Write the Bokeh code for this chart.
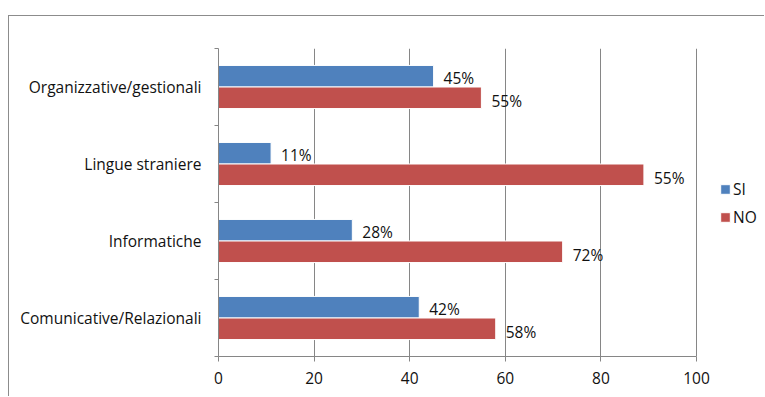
from bokeh.plotting import figure
from bokeh.models import ColumnDataSource, FixedTicker, Legend, LegendItem, Range1d
from bokeh.core.properties import value
from bokeh.embed import file_html
from bokeh.resources import INLINE

categories = ["Comunicative/Relazionali", "Informatiche", "Lingue straniere", "Organizzative/gestionali"]
si_values = [42, 28, 11, 45]
no_values = [58, 72, 89, 55]
si_labels = ["42%", "28%", "11%", "45%"]
no_labels = ["58%", "72%", "55%", "55%"]
x_ticks = [0, 20, 40, 60, 80, 100]

BLUE = "#4F81BD"
RED = "#C0504D"
GRAY = "#868686"
FONT = "Open Sans"
FS = "15.5px"
TXT = "#111111"

pos = [i + 0.5 for i in range(len(categories))]
src = ColumnDataSource(dict(
    y=pos,
    y_si=[v + 0.14 for v in pos],
    y_no=[v - 0.14 for v in pos],
    si=si_values, no=no_values,
    si_lab=si_labels, no_lab=no_labels,
))

# frame spans 209..756 px of the canvas; 0..100 occupies 209..687
x_end = 100 + (756 - 687) * 100 / (687 - 209)

p = figure(width=756, height=381, output_backend="svg", toolbar_location=None,
           x_range=Range1d(0, x_end), y_range=Range1d(0, len(categories)),
           min_border_left=209, min_border_right=0, min_border_top=32, min_border_bottom=41,
           margin=(15, 0, 0, 8),
           styles={"border-top": "1px solid #8c8c8c", "border-left": "1px solid #8c8c8c"})
p.outline_line_color = None
p.background_fill_color = "white"

r_si = p.hbar(y="y_si", right="si", left=0, height=0.28, source=src,
              fill_color=BLUE, line_color="white", line_width=1)
r_no = p.hbar(y="y_no", right="no", left=0, height=0.28, source=src,
              fill_color=RED, line_color="white", line_width=1)

p.text(x="si", y="y_si", text="si_lab", source=src, x_offset=10, y_offset=2,
       text_baseline="middle", text_align="left", text_font=value(FONT),
       text_font_size=FS, text_color=TXT)
p.text(x="no", y="y_no", text="no_lab", source=src, x_offset=10, y_offset=3,
       text_baseline="middle", text_align="left", text_font=value(FONT),
       text_font_size=FS, text_color=TXT)

# x axis
p.xaxis.ticker = FixedTicker(ticks=x_ticks)
p.xaxis.bounds = (0, 100)
p.xaxis.axis_line_color = GRAY
p.xaxis.major_tick_line_color = GRAY
p.xaxis.major_tick_out = 5
p.xaxis.major_tick_in = 0
p.xaxis.minor_tick_line_color = None
p.xaxis.major_label_text_font = FONT
p.xaxis.major_label_text_font_size = FS
p.xaxis.major_label_text_color = TXT
p.xaxis.major_label_standoff = 10

# y axis
p.yaxis.ticker = FixedTicker(ticks=pos, minor_ticks=list(range(len(categories) + 1)))
p.yaxis.major_label_overrides = {v: c for v, c in zip(pos, categories)}
p.yaxis.axis_line_color = GRAY
p.yaxis.major_tick_line_color = None
p.yaxis.minor_tick_line_color = GRAY
p.yaxis.minor_tick_out = 4
p.yaxis.minor_tick_in = 0
p.yaxis.major_label_text_font = FONT
p.yaxis.major_label_text_font_size = FS
p.yaxis.major_label_text_color = TXT
p.yaxis.major_label_standoff = 11

p.xgrid.ticker = FixedTicker(ticks=x_ticks)
p.xgrid.grid_line_color = GRAY
p.ygrid.grid_line_color = None

legend = Legend(items=[LegendItem(label="SI", renderers=[r_si]),
                       LegendItem(label="NO", renderers=[r_no])],
                location=(501, 128), orientation="vertical",
                glyph_width=12, glyph_height=12, label_height=18, spacing=6,
                label_standoff=2, padding=10,
                label_text_font=FONT, label_text_font_size=FS,
                label_text_color=TXT, border_line_color=None,
                background_fill_alpha=0)
p.add_layout(legend, "center")

open("out.html", "w").write(file_html(p, INLINE))
